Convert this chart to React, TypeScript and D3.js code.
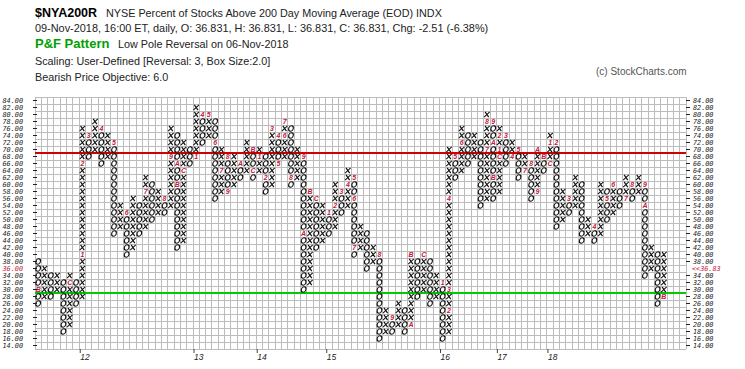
import * as d3 from 'd3';

const W = 745;
const H = 369;

const GRID_COLS = 103;

// price axis (box size 2)
const priceLabels = [84, 82, 80, 78, 76, 74, 72, 70, 68, 66, 64, 62, 60, 58, 56, 54, 52, 50, 48, 46,
  44, 42, 40, 38, 36, 34, 32, 30, 28, 26, 24, 22, 20, 18, 16, 14];

// P&F columns: first column is O, then X / O alternate
const firstColumn = 'O';
const colLow = [26, 28, 28, 30, 18, 20, 26, 28, 68, 70, 66, 68, 46, 48, 40, 42, 46, 48, 50, 52,
  52, 54, 42, 44, 66, 68, 72, 74, 56, 58, 58, 60, 62, 64, 62, 64, 58, 60, 66, 68,
  60, 62, 30, 32, 42, 44, 46, 48, 52, 54, 40, 42, 36, 38, 16, 18, 18, 20, 18, 20,
  28, 30, 26, 28, 16, 18, 62, 64, 66, 68, 54, 56, 56, 58, 66, 68, 62, 64, 56, 58,
  64, 66, 48, 50, 52, 54, 44, 46, 44, 46, 50, 52, 54, 56, 56, 58, 34, 36, 26, 28];
const colHigh = [38, 36, 34, 34, 32, 34, 32, 76, 74, 78, 76, 74, 72, 54, 52, 56, 54, 62, 60, 58,
  56, 76, 74, 72, 70, 82, 80, 80, 78, 70, 68, 68, 66, 72, 70, 70, 68, 76, 74, 78,
  76, 70, 68, 58, 56, 54, 52, 60, 58, 64, 62, 48, 46, 42, 40, 24, 22, 26, 24, 40,
  38, 40, 38, 34, 32, 70, 68, 76, 74, 74, 72, 80, 78, 76, 74, 72, 70, 68, 66, 70,
  68, 74, 72, 58, 56, 62, 60, 50, 48, 60, 58, 60, 58, 62, 60, 62, 60, 42, 40, 40];

// month marks: [column, box, label]
const monthMarks: [number, number, string][] = [
  [0, 30, 'B'], [5, 32, 'C'],
  [7, 40, '1'], [7, 66, '2'], [8, 74, '3'], [10, 76, '4'], [12, 72, '5'], [14, 52, '6'],
  [17, 58, '7'], [20, 56, '8'], [21, 68, '9'], [22, 66, 'A'], [22, 60, 'B'], [23, 64, 'C'],
  [25, 68, '1'], [26, 80, '4'], [27, 80, '5'], [28, 72, '6'], [29, 64, '7'], [30, 68, '8'],
  [30, 58, '9'], [32, 66, 'A'], [34, 70, 'B'], [34, 64, 'C'],
  [35, 68, '1'], [36, 62, '2'], [37, 76, '3'], [38, 74, '4'], [38, 66, '5'], [39, 74, '6'],
  [39, 78, '7'], [40, 62, '8'], [42, 68, '9'], [42, 46, 'A'], [43, 58, 'B'], [44, 56, 'C'],
  [46, 52, '1'], [47, 54, '2'], [48, 58, '3'], [49, 60, '4'], [50, 62, '5'], [50, 56, '6'],
  [50, 42, '7'], [54, 40, '8'], [56, 22, '9'], [59, 20, 'A'], [59, 40, 'B'], [61, 40, 'C'],
  [64, 32, '1'], [65, 24, '2'], [65, 30, '3'], [65, 56, '4'], [66, 68, '5'], [67, 72, '6'],
  [71, 70, '7'], [71, 78, '8'], [72, 78, '9'], [72, 72, 'A'], [72, 62, 'B'], [73, 68, 'C'],
  [73, 70, '1'], [73, 74, '2'], [74, 74, '3'], [75, 68, '4'], [76, 70, '5'], [77, 64, '7'],
  [78, 66, '8'], [79, 58, '9'], [79, 70, 'A'], [80, 68, 'B'], [81, 66, 'C'],
  [81, 72, '1'], [82, 72, '2'], [84, 56, '3'], [88, 48, '4'], [90, 56, '5'], [91, 60, '6'],
  [93, 56, '7'], [94, 60, '8'], [96, 60, '9'], [96, 54, 'A'], [99, 28, 'B'],
];

// year starts: [label, column]
const yearMarks: [string, number][] = [['12', 7], ['13', 25], ['14', 35], ['15', 46], ['16', 64], ['17', 73], ['18', 81]];

const lastPrice = '36.83';
const lastBox = 36;
const upperLine = 69;
const lowerLine = 29;

const MONO = '"DejaVu Sans Mono", monospace';
const SANS = '"Liberation Sans", Arial, sans-serif';

function App() {
  const x = d3.scaleLinear().domain([0, GRID_COLS]).range([35, 686]);
  const y = d3.scaleLinear().domain([13, 85]).range([349, 97]);

  const marks = new Map(monthMarks.map(([c, v, t]) => [`${c}:${v}`, t]));
  const boxes = colLow.flatMap((lo, i) => {
    const kind = (i % 2 === 0) === (firstColumn === 'O') ? 'O' : 'X';
    return d3.range(lo, colHigh[i] + 1, 2).map((v) => ({
      col: i, v, kind, label: marks.get(`${i}:${v}`),
    }));
  });

  return (
    <div style={{position: 'absolute', left: 0, top: 0}}>
      <svg width={W} height={H} viewBox={`0 0 ${W} ${H}`} style={{display: 'block', background: '#fff'}}>
        <g fontFamily={SANS} fill="#222" style={{whiteSpace: 'pre'}}>
          <text x={35} y={17} fontSize={12.5} fontWeight="bold" fill="#000">$NYA200R</text>
          <text x={106} y={17} fontSize={10.8}>NYSE Percent of Stocks Above 200 Day Moving Average (EOD)  INDX</text>
          <text x={35} y={32} fontSize={10.9}>09-Nov-2018, 16:00 ET, daily, O: 36.831, H: 36.831, L: 36.831, C: 36.831, Chg: -2.51 (-6.38%)</text>
          <text x={35} y={48} fontSize={13} fontWeight="bold" fill="#00a000">P&amp;F Pattern</text>
          <text x={118} y={48} fontSize={10.8}>Low Pole Reversal on 06-Nov-2018</text>
          <text x={35} y={64.5} fontSize={10.8}>Scaling: User-Defined [Reversal: 3, Box Size:2.0]</text>
          <text x={35} y={81} fontSize={10.8}>Bearish Price Objective: 6.0</text>
          <text x={596} y={75} fontSize={10} fill="#555">(c) StockCharts.com</text>
        </g>

        <g stroke="#bcbcbc" strokeWidth={1} shapeRendering="crispEdges">
          {d3.range(GRID_COLS + 1).map((i) => (
            <line key={`v${i}`} x1={x(i)} x2={x(i)} y1={y(85)} y2={y(13)} />
          ))}
          {d3.range(13, 86, 2).map((v) => (
            <line key={`h${v}`} x1={x(0)} x2={x(GRID_COLS)} y1={y(v)} y2={y(v)} />
          ))}
        </g>

        <line x1={x(0)} x2={x(GRID_COLS)} y1={y(upperLine)} y2={y(upperLine)} stroke="#d00000" strokeWidth={2} />
        <line x1={x(0)} x2={x(GRID_COLS)} y1={y(lowerLine)} y2={y(lowerLine)} stroke="#00cc00" strokeWidth={2} />

        <g>
          {boxes.map((b) => {
            const cx = x(b.col + 0.5);
            const cy = y(b.v);
            if (b.label) {
              return (
                <text key={`${b.col}:${b.v}`} x={cx} y={cy + 2.5} textAnchor="middle" fontFamily={SANS}
                  fontSize={7} fontStyle="italic" fontWeight="bold" fill="#c8163c">{b.label}</text>
              );
            }
            return b.kind === 'X' ? (
              <path key={`${b.col}:${b.v}`} transform={`translate(${cx},${cy}) skewX(-10)`}
                d="M-2.3,-2.7L2.3,2.7M2.3,-2.7L-2.3,2.7" stroke="#111" strokeWidth={1.1} fill="none" />
            ) : (
              <ellipse key={`${b.col}:${b.v}`} transform={`translate(${cx},${cy}) skewX(-10)`}
                rx={2.3} ry={2.75} stroke="#111" strokeWidth={1.1} fill="none" />
            );
          })}
        </g>

        <g fontFamily={MONO} fontSize={6.8} fontStyle="italic">
          {priceLabels.map((v) => (
            <g key={v}>
              <line x1={33} x2={37} y1={y(v)} y2={y(v)} stroke="#222" />
              <text x={23} y={y(v) + 2.4} textAnchor="end" fill={v === lastBox ? '#c8163c' : '#222'}>{v.toFixed(2)}</text>
              {v !== lastBox && <line x1={686} x2={690} y1={y(v)} y2={y(v)} stroke="#222" />}
              {v === lastBox ? (
                <text x={692} y={y(v) + 2.4} fill="#c8163c">{`<<${lastPrice}`}</text>
              ) : (
                <text x={693} y={y(v) + 2.4} fill="#222">{v.toFixed(2)}</text>
              )}
            </g>
          ))}
        </g>

        <g fontFamily={SANS} fontSize={8.5} fontStyle="italic" fill="#222">
          {yearMarks.map(([t, c]) => (
            <g key={t}>
              <line x1={x(c) + 1} x2={x(c) + 1} y1={349} y2={353} stroke="#444" />
              <text x={x(c) + 1} y={360}>{t}</text>
            </g>
          ))}
        </g>
      </svg>
    </div>
  );
}

export default App;
